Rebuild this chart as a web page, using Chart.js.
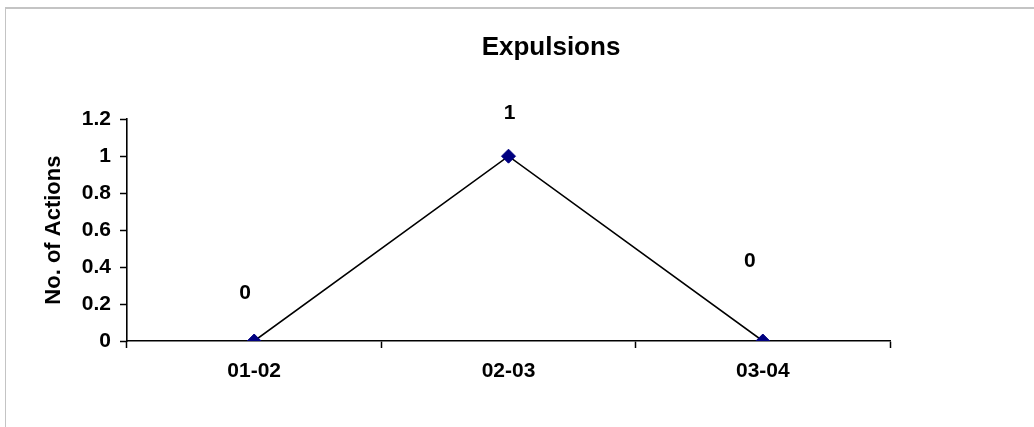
<!DOCTYPE html>
<html>
<head>
<meta charset="utf-8">
<script src="https://cdn.jsdelivr.net/npm/chart.js@4.4.1/dist/chart.umd.min.js"></script>
<style>
  html, body { margin: 0; padding: 0; background: #fff; overflow: hidden; }
</style>
</head>
<body>
<canvas id="chart" width="1034" height="427"></canvas>
<script>
const seasons = ['01-02', '02-03', '03-04'];
const expulsions = [0, 1, 0];
const yTicks = [0, 0.2, 0.4, 0.6, 0.8, 1, 1.2];

const FONT = '"Liberation Sans", Arial, sans-serif';
// value labels are placed by hand in the original, offset from their point (px)
const labelOffsets = [[-9, -48], [1, -43], [-13, -80]];

// grey frame of the chart object (only top and left edges are visible)
const framePlugin = {
  id: 'frame',
  beforeDraw(chart) {
    const ctx = chart.ctx;
    ctx.save();
    ctx.fillStyle = '#fff';
    ctx.fillRect(0, 0, chart.width, chart.height);
    ctx.strokeStyle = '#c4c4c4';
    ctx.lineWidth = 2;
    ctx.beginPath();
    ctx.moveTo(5, 8);
    ctx.lineTo(chart.width, 8);
    ctx.stroke();
    ctx.lineWidth = 1;
    ctx.beginPath();
    ctx.moveTo(5.5, 8);
    ctx.lineTo(5.5, chart.height);
    ctx.stroke();
    ctx.restore();
  }
};

// title is centred over a wider box than the padded one
const shiftTitle = {
  id: 'shiftTitle',
  afterLayout(chart) {
    const t = chart.titleBlock;
    if (t) { t.left += 106; t.right += 106; }
  }
};

const valueLabels = {
  id: 'valueLabels',
  afterDatasetsDraw(chart) {
    const ctx = chart.ctx;
    const meta = chart.getDatasetMeta(0);
    ctx.save();
    ctx.font = 'bold 21px ' + FONT;
    ctx.fillStyle = '#000';
    ctx.textAlign = 'center';
    ctx.textBaseline = 'middle';
    meta.data.forEach((pt, i) => {
      const [dx, dy] = labelOffsets[i];
      ctx.fillText(String(expulsions[i]), pt.x + dx, pt.y + dy);
    });
    ctx.restore();
  }
};

new Chart(document.getElementById('chart'), {
  type: 'line',
  data: {
    labels: seasons,
    datasets: [{
      data: expulsions,
      borderColor: '#000',
      borderWidth: 1.6,
      tension: 0,
      fill: false,
      pointStyle: 'rectRot',
      pointRadius: 7,
      pointHoverRadius: 7,
      pointBackgroundColor: '#000080',
      pointBorderColor: '#000080',
      pointBorderWidth: 1
    }]
  },
  options: {
    responsive: false,
    animation: false,
    layout: { padding: { left: 0, right: 144, top: 0, bottom: 0 } },
    scales: {
      x: {
        type: 'category',
        offset: true,
        grid: {
          offset: true,
          drawOnChartArea: false,
          drawTicks: true,
          tickLength: 7,
          tickWidth: 1.5,
          tickColor: '#000'
        },
        border: { display: true, color: '#000', width: 1.6 },
        ticks: {
          color: '#000',
          font: { family: FONT, size: 21, weight: 'bold' },
          padding: 11,
          maxRotation: 0
        },
        afterFit(scale) { scale.height = 86; }
      },
      y: {
        min: 0,
        max: 1.2,
        afterBuildTicks(scale) { scale.ticks = yTicks.map(v => ({ value: v })); },
        grid: {
          drawOnChartArea: false,
          drawTicks: true,
          tickLength: 7,
          tickWidth: 1.5,
          tickColor: '#000'
        },
        border: { display: true, color: '#000', width: 1.6 },
        ticks: {
          color: '#000',
          font: { family: FONT, size: 21, weight: 'bold' },
          padding: 9,
          callback: v => String(v)
        },
        title: {
          display: true,
          text: 'No. of Actions',
          color: '#000',
          font: { family: FONT, size: 22, weight: 'bold' },
          padding: { top: 41, bottom: 0 }
        },
        afterFit(scale) { scale.width = 127; }
      }
    },
    plugins: {
      legend: { display: false },
      tooltip: { enabled: false },
      title: {
        display: true,
        text: 'Expulsions',
        color: '#000',
        font: { family: FONT, size: 26, weight: 'bold' },
        padding: { top: 32, bottom: 56 }
      }
    }
  },
  plugins: [framePlugin, shiftTitle, valueLabels]
});
</script>
</body>
</html>
